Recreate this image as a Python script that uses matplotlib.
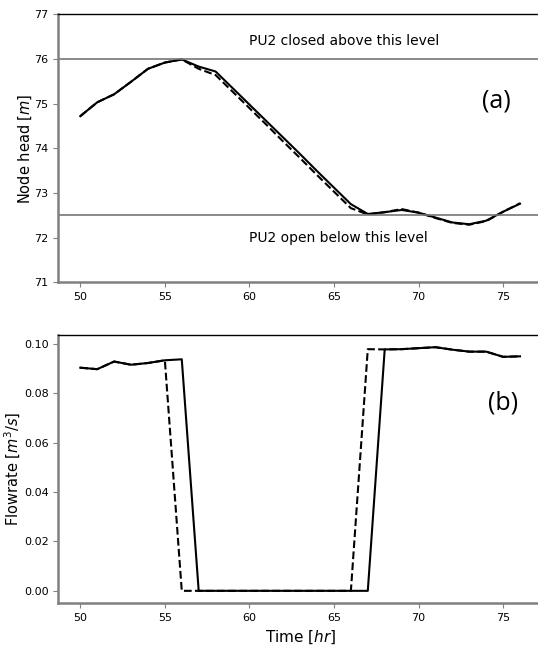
import matplotlib
matplotlib.use("Agg")
import matplotlib.pyplot as plt
from matplotlib.ticker import FormatStrFormatter

hours = list(range(50, 77))
head_solid = [74.72, 75.03, 75.21, 75.49, 75.78, 75.92, 75.99, 75.83, 75.72,
              75.35, 74.98, 74.61, 74.24, 73.87, 73.49, 73.12, 72.75, 72.53,
              72.57, 72.62, 72.56, 72.45, 72.34, 72.30, 72.38, 72.58, 72.76]
head_dashed = [74.72, 75.03, 75.21, 75.49, 75.78, 75.92, 75.99, 75.78, 75.64,
               75.27, 74.90, 74.53, 74.15, 73.78, 73.40, 73.03, 72.66, 72.52,
               72.57, 72.64, 72.56, 72.44, 72.33, 72.29, 72.37, 72.58, 72.77]
flow_solid = [0.0903, 0.0897, 0.0928, 0.0915, 0.0922, 0.0933, 0.0937, 0.0, 0.0,
              0.0, 0.0, 0.0, 0.0, 0.0, 0.0, 0.0, 0.0, 0.0,
              0.0977, 0.0978, 0.0982, 0.0986, 0.0976, 0.0968, 0.0968, 0.0947, 0.0949]
flow_dashed = [0.0903, 0.0897, 0.0928, 0.0915, 0.0922, 0.0933, 0.0, 0.0, 0.0,
               0.0, 0.0, 0.0, 0.0, 0.0, 0.0, 0.0, 0.0, 0.0978,
               0.0977, 0.0978, 0.0982, 0.0986, 0.0976, 0.0968, 0.0968, 0.0947, 0.0949]
close_level = 76.0
open_level = 72.5
xticks = [50, 55, 60, 65, 70, 75]

fig = plt.figure(figsize=(5.38, 6.45), dpi=100)
ax1 = fig.add_axes([0.1084, 0.5623, 0.899, 0.4155])
ax2 = fig.add_axes([0.1084, 0.0651, 0.899, 0.4155])

def style(ax):
    for s in ['left', 'bottom']:
        ax.spines[s].set_color('#808080')
        ax.spines[s].set_linewidth(1.8)
    ax.spines['top'].set_color('black')
    ax.spines['top'].set_linewidth(1.0)
    ax.spines['right'].set_visible(False)
    ax.tick_params(labelsize=8, color='#808080')
    ax.set_xticks(xticks)

ax1.plot(hours, head_solid, color='black', lw=1.5)
ax1.plot(hours, head_dashed, color='black', lw=1.5, ls='--')
ax1.axhline(close_level, color='#757575', lw=1.2)
ax1.axhline(open_level, color='#757575', lw=1.2)
ax1.set_ylim(71, 77)
ax1.text(60, 76.4, 'PU2 closed above this level', fontsize=10, va='center')
ax1.text(60, 72.0, 'PU2 open below this level', fontsize=10, va='center')
ax1.text(74.6, 75.06, '(a)', fontsize=18, family='Open Sans', ha='center', va='center')
ax1.set_ylabel('Node head [$m$]', fontsize=10.5, labelpad=0.5)
style(ax1)

ax2.plot(hours, flow_solid, color='black', lw=1.5)
ax2.plot(hours, flow_dashed, color='black', lw=1.5, ls='--')
ax2.yaxis.set_major_formatter(FormatStrFormatter('%.2f'))
ax2.text(75.0, 0.0761, '(b)', fontsize=18, family='Open Sans', ha='center', va='center')
ax2.set_ylabel('Flowrate [$m^3/s$]', fontsize=10.5, labelpad=0.5)
ax2.set_xlabel('Time [$hr$]', fontsize=11)
style(ax2)

fig.savefig('out.png', dpi=100)
